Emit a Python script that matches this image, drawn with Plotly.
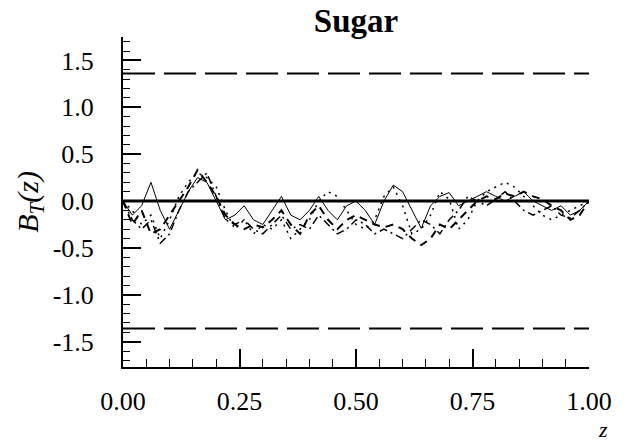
import plotly.graph_objects as go

z = [round(i * 0.02, 2) for i in range(51)]

series_solid = [0, -0.15, -0.05, 0.2, -0.1, -0.3, -0.1, 0.1, 0.25, 0.2, 0.0,
                -0.2, -0.15, -0.05, -0.2, -0.25, -0.1, 0.05, -0.15, -0.2, -0.1,
                0.05, -0.1, -0.2, -0.05, 0.0, -0.1, -0.25, 0.0, 0.17, 0.1,
                -0.1, -0.29, -0.05, 0.05, 0.09, -0.05, 0.0, 0.05, 0.1, 0.05,
                0.0, 0.05, 0.1, 0.0, -0.05, -0.1, -0.05, -0.15, -0.1, 0.0]
series_dash = [0, -0.25, -0.1, -0.35, -0.3, -0.15, 0.0, 0.15, 0.33, 0.2, 0.05,
               -0.15, -0.25, -0.3, -0.25, -0.28, -0.2, -0.1, -0.25, -0.35, -0.15,
               -0.05, -0.2, -0.3, -0.2, -0.15, -0.2, -0.25, -0.28, -0.25, -0.3,
               -0.4, -0.47, -0.4, -0.25, -0.3, -0.2, -0.1, 0.0, 0.05, 0.02,
               0.08, 0.05, 0.1, 0.05, 0.02, -0.05, -0.1, -0.2, -0.15, 0.0]
series_dot = [0, -0.1, -0.25, -0.15, -0.4, -0.2, 0.05, 0.2, 0.3, 0.25, 0.15,
              -0.1, -0.3, -0.2, -0.35, -0.25, -0.3, -0.2, -0.4, -0.3, -0.2,
              0.0, 0.1, 0.05, -0.1, -0.25, -0.3, -0.2, 0.05, 0.15, -0.05,
              -0.35, -0.3, -0.15, 0.1, 0.02, -0.3, -0.2, 0.0, 0.1, 0.15,
              0.2, 0.15, 0.05, -0.05, -0.15, -0.2, -0.15, -0.1, -0.05, 0.0]
series_dashdot = [0, -0.2, -0.3, -0.2, -0.45, -0.35, -0.1, 0.1, 0.2, 0.3, 0.05,
                  -0.2, -0.25, -0.2, -0.3, -0.35, -0.25, -0.15, -0.3, -0.25, -0.3,
                  -0.15, -0.25, -0.35, -0.3, -0.2, -0.25, -0.35, -0.3, -0.35, -0.4,
                  -0.3, -0.2, -0.25, -0.35, -0.2, -0.1, 0.05, 0.0, -0.05, 0.02,
                  0.1, 0.0, -0.1, -0.15, -0.1, -0.05, -0.15, -0.18, -0.1, 0.0]

crit = 1.36
x_ticks = [0, 0.25, 0.5, 0.75, 1.0]
x_labels = ["0.00", "0.25", "0.50", "0.75", "1.00"]
y_ticks = [-1.5, -1.0, -0.5, 0.0, 0.5, 1.0, 1.5]
y_labels = ["-1.5", "-1.0", "-0.5", "0.0", "0.5", "1.0", "1.5"]

fig = go.Figure()
fig.add_trace(go.Scatter(x=[0, 1], y=[crit, crit], mode="lines",
                         line=dict(color="black", width=2, dash="32px,9px")))
fig.add_trace(go.Scatter(x=[0, 1], y=[-crit, -crit], mode="lines",
                         line=dict(color="black", width=2, dash="32px,9px")))
fig.add_trace(go.Scatter(x=[0, 1.015], y=[0, 0], mode="lines",
                         line=dict(color="black", width=3), cliponaxis=False))
fig.add_trace(go.Scatter(x=z, y=series_solid, mode="lines",
                         line=dict(color="black", width=1)))
fig.add_trace(go.Scatter(x=z, y=series_dash, mode="lines",
                         line=dict(color="black", width=2, dash="8px,6px")))
fig.add_trace(go.Scatter(x=z, y=series_dot, mode="lines",
                         line=dict(color="black", width=1.5, dash="2px,5px")))
fig.add_trace(go.Scatter(x=z, y=series_dashdot, mode="lines",
                         line=dict(color="black", width=1.5, dash="8px,4px,2px,4px")))

font = "Liberation Serif, Times New Roman, serif"
fig.update_layout(
    width=632, height=445,
    margin=dict(l=123, r=43, t=37, b=78),
    paper_bgcolor="white", plot_bgcolor="white",
    showlegend=False,
    font=dict(family=font, color="black", size=26),
    title=dict(text="<b>Sugar</b>", x=0.5, xanchor="center", xref="paper",
               y=0.98, yanchor="top", font=dict(size=33, family=font)),
)
fig.update_xaxes(range=[0, 1], showgrid=False, zeroline=False,
                 showline=True, linewidth=2, linecolor="black",
                 tickmode="array", tickvals=x_ticks, ticktext=x_labels,
                 ticks="inside", ticklen=18, tickwidth=1.5, tickcolor="black",
                 minor=dict(dtick=0.05, ticks="inside", ticklen=8,
                            tickwidth=1, tickcolor="black"),
                 ticklabelstandoff=10)
fig.update_yaxes(range=[-1.77, 1.75], showgrid=False, zeroline=False,
                 showline=True, linewidth=2, linecolor="black",
                 tickmode="array", tickvals=y_ticks, ticktext=y_labels,
                 ticks="inside", ticklen=18, tickwidth=1.5, tickcolor="black",
                 minor=dict(dtick=0.1, ticks="inside", ticklen=7,
                            tickwidth=1, tickcolor="black"),
                 ticklabelstandoff=22)
fig.add_annotation(text="<i>B</i><sub><i>T</i></sub><i>(z)</i>", xref="paper", yref="paper",
                   x=-0.2, y=0.5, textangle=-90, showarrow=False,
                   xanchor="center", yanchor="middle",
                   font=dict(size=30, family=font))
fig.add_annotation(text="<i>z</i>", xref="paper", yref="paper",
                   x=1.03, y=-0.232, showarrow=False, xanchor="center", yanchor="bottom",
                   font=dict(size=22, family=font))

fig.write_html("out.html")
